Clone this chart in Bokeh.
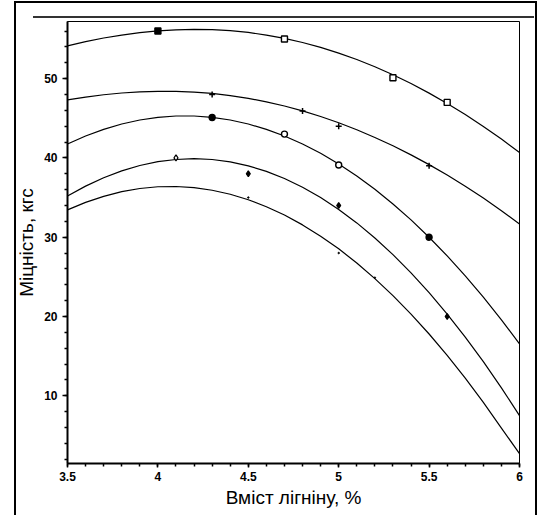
from bokeh.plotting import figure
from bokeh.models import FixedTicker, NumeralTickFormatter
from bokeh.embed import file_html
from bokeh.resources import INLINE

# ---- data ----
curve_x = [3.5, 3.6, 3.7, 3.8, 3.9, 4.0, 4.1, 4.2, 4.3, 4.4, 4.5, 4.6, 4.7,
           4.8, 4.9, 5.0, 5.1, 5.2, 5.3, 5.4, 5.5, 5.6, 5.7, 5.8, 5.9, 6.0]
curve1 = [54.13, 54.66, 55.12, 55.49, 55.79, 56.01, 56.14, 56.20, 56.17, 56.04,
          55.82, 55.49, 55.07, 54.55, 53.93, 53.22, 52.41, 51.49, 50.49, 49.38,
          48.17, 46.87, 45.47, 43.97, 42.37, 40.68]
curve2 = [47.31, 47.67, 47.96, 48.18, 48.32, 48.39, 48.39, 48.30, 48.13, 47.86,
          47.51, 47.07, 46.54, 45.93, 45.22, 44.43, 43.55, 42.58, 41.53, 40.38,
          39.15, 37.83, 36.42, 34.93, 33.34, 31.67]
curve3 = [41.75, 42.76, 43.60, 44.27, 44.78, 45.11, 45.28, 45.28, 45.11, 44.78,
          44.27, 43.60, 42.76, 41.75, 40.58, 39.23, 37.72, 36.04, 34.19, 32.18,
          29.99, 27.64, 25.12, 22.43, 19.58, 16.55]
curve4 = [35.20, 36.44, 37.50, 38.36, 39.04, 39.52, 39.80, 39.90, 39.80, 39.50,
          39.00, 38.30, 37.40, 36.30, 35.00, 33.50, 31.80, 29.90, 27.80, 25.50,
          23.00, 20.30, 17.40, 14.30, 11.00, 7.50]
curve5 = [33.44, 34.39, 35.15, 35.74, 36.14, 36.36, 36.39, 36.25, 35.92, 35.41,
          34.72, 33.84, 32.79, 31.55, 30.13, 28.53, 26.75, 24.78, 22.63, 20.30,
          17.79, 15.10, 12.22, 9.17, 5.93, 2.70]

s1_x = [4.0, 4.7, 5.3, 5.6]
s1_y = [56.0, 55.0, 50.1, 47.0]
s2_x = [4.3, 4.8, 5.0, 5.5]
s2_y = [48.0, 45.9, 44.0, 39.0]
s3_x = [4.3, 4.7, 5.0, 5.5]
s3_y = [45.1, 43.0, 39.1, 30.0]
s4_x = [4.1, 4.5, 5.0, 5.6]
s4_y = [40.0, 38.0, 34.0, 20.0]
s5_x = [4.5, 5.0, 5.2]
s5_y = [35.0, 28.0, 24.9]

x_ticks = [3.5, 4.0, 4.5, 5.0, 5.5, 6.0]
y_ticks = [10, 20, 30, 40, 50]

# ---- styles ----
s1_fill = ["black", "white", "white", "white"]
s3_fill = ["black", "white", "white", "black"]
s4_fill = ["white", "black", "black", "black"]

FONT = "Liberation Sans"

page_frame = {
    "background-color": "white",
    "background-image": ("linear-gradient(#000,#000), linear-gradient(#000,#000), "
                         "linear-gradient(#000,#000), linear-gradient(#333,#333)"),
    "background-position": "14px 1px, 14px 1px, 535px 1px, 33px 16px",
    "background-size": "2px 100%, 523px 2px, 2px 100%, 501px 2px",
    "background-repeat": "no-repeat",
}

p = figure(width=542, height=515, x_range=(3.5, 6.0), y_range=(1.46, 57.2),
           output_backend="svg", toolbar_location=None,
           min_border_left=67, min_border_right=23, min_border_top=21, min_border_bottom=52,
           styles=page_frame)
p.background_fill_color = "white"
p.border_fill_color = None
p.outline_line_color = "black"
p.outline_line_width = 1
p.grid.visible = False

x_minor = [round(3.5 + 0.1 * i, 2) for i in range(26)]
y_minor = list(range(2, 58, 2))
p.xaxis.ticker = FixedTicker(ticks=x_ticks, minor_ticks=x_minor)
p.yaxis.ticker = FixedTicker(ticks=y_ticks, minor_ticks=y_minor)
p.xaxis.formatter = NumeralTickFormatter(format="0.[0]")

for ax in (p.xaxis[0], p.yaxis[0]):
    ax.axis_line_width = 2
    ax.axis_line_color = "black"
    ax.major_tick_in = 0
    ax.minor_tick_in = 0
    ax.major_tick_line_width = 1.5
    ax.minor_tick_line_width = 1.5
    ax.major_label_text_font = FONT
    ax.major_label_text_font_style = "bold"
    ax.major_label_text_font_size = "12px"
    ax.major_label_text_color = "black"
    ax.axis_label_text_font = FONT
    ax.axis_label_text_font_style = "normal"
    ax.axis_label_text_font_size = "19px"
    ax.axis_label_text_color = "black"

p.xaxis.major_tick_out = 4
p.xaxis.minor_tick_out = 3
p.xaxis.major_label_standoff = 4
p.xaxis.axis_label_standoff = 3
p.yaxis.major_tick_out = 5
p.yaxis.minor_tick_out = 3
p.yaxis.major_label_standoff = 5
p.yaxis.axis_label_standoff = 4

p.xaxis.axis_label = "Вміст лігніну, %"
p.yaxis.axis_label = "Міцність, кгс"

for cy in (curve1, curve2, curve3, curve4, curve5):
    p.line(curve_x, cy, line_color="black", line_width=1.2)

p.scatter(s1_x, s1_y, marker="square", size=6, fill_color=s1_fill, line_color="black", line_width=1.4)
p.scatter(s2_x, s2_y, marker="cross", size=6, line_color="black", line_width=1.5)
p.scatter(s3_x, s3_y, marker="circle", size=6, fill_color=s3_fill, line_color="black", line_width=1.4)
p.scatter(s4_x, s4_y, marker="diamond", size=6, fill_color=s4_fill, line_color="black", line_width=1.2)
p.scatter(s5_x, s5_y, marker="circle", size=1.5, fill_color="black", line_color="black")

open("out.html", "w").write(file_html(p, INLINE))
